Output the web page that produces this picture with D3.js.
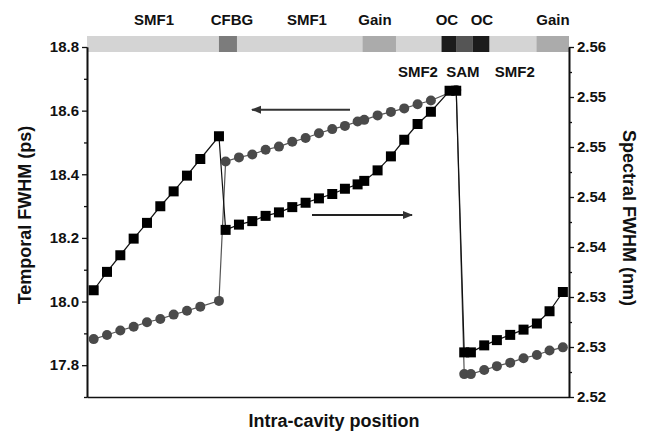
<!DOCTYPE html>
<html>
<head>
<meta charset="utf-8">
<script src="https://cdn.jsdelivr.net/npm/d3@7"></script>
<style>
  body { margin: 0; background: #fff; }
  text { font-family: "Liberation Sans", Arial, sans-serif; font-weight: bold; fill: #111; }
</style>
</head>
<body>
<svg id="chart"></svg>
<script>
// intra-cavity position (arbitrary units, one step per sample)
const positions = [0.5, 1.5, 2.5, 3.5, 4.5, 5.5, 6.5, 7.5, 8.5, 9.9,
  10.4, 11.4, 12.4, 13.4, 14.4, 15.4, 16.4, 17.4, 18.4, 19.35, 20.3, 20.8,
  21.8, 22.8, 23.8, 24.8, 25.8, 27.2, 27.7,
  28.3, 28.8, 29.8, 30.75, 31.75, 32.75, 33.75, 34.7, 35.7];

// temporal FWHM (ps), circles, left axis
const temporal = [17.882, 17.895, 17.909, 17.921, 17.935, 17.945, 17.959, 17.971, 17.984, 18.002,
  18.440, 18.453, 18.462, 18.477, 18.487, 18.502, 18.514, 18.529, 18.542, 18.552, 18.566, 18.571,
  18.585, 18.596, 18.607, 18.620, 18.632, null, 18.665,
  17.772, 17.772, 17.785, 17.797, 17.808, 17.822, 17.832, 17.846, 17.856];

// spectral FWHM (nm), squares, right axis
const spectral = [2.5322, 2.5343, 2.5362, 2.5381, 2.5399, 2.5418, 2.5435, 2.5453, 2.5472, 2.5498,
  2.5391, 2.5397, 2.5401, 2.5407, 2.5411, 2.5417, 2.5422, 2.5427, 2.5432, 2.5438, 2.5443, 2.5447,
  2.5459, 2.5475, 2.5494, 2.5512, 2.5526, 2.5550, 2.5550,
  2.5251, 2.5251, 2.5259, 2.5265, 2.5271, 2.5277, 2.5284, 2.5298, 2.5320];

const leftTicks = [17.8, 18.0, 18.2, 18.4, 18.6, 18.8];
const leftMinor = [17.7, 17.9, 18.1, 18.3, 18.5, 18.7];
const rightTickLabels = ["2.52", "2.53", "2.53", "2.54", "2.54", "2.55", "2.55", "2.56"];

// cavity components drawn in the strip on top
const segStart = [0, 9.9, 20.68, 26.6, 27.73, 28.93, 33.73];
const segEnd = [36.16, 11.25, 23.18, 27.73, 28.93, 30.18, 36.16];
const segShade = ["#d4d4d4", "#7c7c7c", "#ababab", "#1c1c1c", "#555555", "#1c1c1c", "#ababab"];

const topLabels = ["SMF1", "CFBG", "SMF1", "Gain", "OC", "OC", "Gain"];
const topLabelPos = [5.03, 10.88, 16.5, 21.6, 27.0, 29.63, 34.96];
const lowLabels = ["SMF2", "SAM", "SMF2"];
const lowLabelPos = [24.83, 28.2, 32.1];

let width = 649;
let height = 433;
let padLeft = 87, padRight = 569, padTop = 47, padBottom = 397;

let svg = d3.select('#chart').attr('width', width).attr('height', height);

let xScale = d3.scaleLinear().domain([0, 36.16]).range([padLeft, padRight]);
let yLeft = d3.scaleLinear().domain([17.7, 18.8]).range([padBottom, padTop]);
let yRight = d3.scaleLinear().domain([2.52, 2.56]).range([padBottom, padTop]);

// component strip
let strip = svg.append("g").attr("class", "strip");
segStart.forEach((s, i) => {
  strip.append("rect")
    .attr("x", xScale(s))
    .attr("y", 36)
    .attr("width", xScale(segEnd[i]) - xScale(s))
    .attr("height", 16)
    .attr("fill", segShade[i]);
});

svg.selectAll(".topLabel")
  .data(topLabels)
  .enter()
  .append("text")
    .attr("class", "topLabel")
    .attr("x", (d, i) => xScale(topLabelPos[i]))
    .attr("y", 25)
    .attr("text-anchor", "middle")
    .attr("font-size", 15)
    .text(d => d);

svg.selectAll(".lowLabel")
  .data(lowLabels)
  .enter()
  .append("text")
    .attr("class", "lowLabel")
    .attr("x", (d, i) => xScale(lowLabelPos[i]))
    .attr("y", 77)
    .attr("text-anchor", "middle")
    .attr("font-size", 15)
    .text(d => d);

// axes
let yAxisLeft = d3.axisLeft(yLeft).tickValues(leftTicks).tickFormat(d3.format(".1f")).tickSize(5).tickSizeOuter(0);
svg.append("g")
  .attr("class", "axisY")
  .attr("transform", "translate(" + padLeft + ",0)")
  .call(yAxisLeft);

let rightTicks = rightTickLabels.map((d, i) => 2.52 + i * 0.04 / 7);
let rightMinor = rightTicks.slice(0, -1).map(d => d + 0.02 / 7);
let yAxisRight = d3.axisRight(yRight).tickValues(rightTicks).tickFormat((d, i) => rightTickLabels[i]).tickSize(5).tickSizeOuter(0);
svg.append("g")
  .attr("class", "axisY2")
  .attr("transform", "translate(" + padRight + ",0)")
  .call(yAxisRight);

svg.append("g")
  .attr("transform", "translate(" + padLeft + ",0)")
  .call(d3.axisLeft(yLeft).tickValues(leftMinor).tickFormat("").tickSize(3).tickSizeOuter(0));
svg.append("g")
  .attr("transform", "translate(" + padRight + ",0)")
  .call(d3.axisRight(yRight).tickValues(rightMinor).tickFormat("").tickSize(3).tickSizeOuter(0));

svg.append("g")
  .attr("class", "axisX")
  .attr("transform", "translate(0," + padBottom + ")")
  .call(d3.axisBottom(xScale).tickValues([]).tickSizeOuter(0));

svg.selectAll(".domain").attr("stroke", "#111").attr("stroke-width", 1.6);
svg.selectAll(".tick line").attr("stroke", "#111").attr("stroke-width", 1.3);
svg.selectAll(".tick text")
  .attr("font-size", 15)
  .attr("font-family", '"Liberation Sans", Arial, sans-serif')
  .attr("font-weight", "bold")
  .attr("fill", "#111");
svg.selectAll(".axisY .tick text").attr("x", -8);
svg.selectAll(".axisY2 .tick text").attr("x", 8);

// axis titles
svg.append("text")
  .attr("transform", "translate(31,215) rotate(-90)")
  .attr("text-anchor", "middle")
  .attr("font-size", 18)
  .text("Temporal FWHM (ps)");
svg.append("text")
  .attr("transform", "translate(623,218) rotate(90)")
  .attr("text-anchor", "middle")
  .attr("font-size", 18)
  .text("Spectral FWHM (nm)");
svg.append("text")
  .attr("x", 334)
  .attr("y", 427)
  .attr("text-anchor", "middle")
  .attr("font-size", 18)
  .text("Intra-cavity position");

// series
let circlePts = positions.map((p, i) => [p, temporal[i]]).filter(d => d[1] !== null);
let squarePts = positions.map((p, i) => [p, spectral[i]]).filter(d => d[1] !== null);

svg.append("path")
  .datum(circlePts)
  .attr("fill", "none")
  .attr("stroke", "#555")
  .attr("stroke-width", 1.2)
  .attr("d", d3.line().x(d => xScale(d[0])).y(d => yLeft(d[1])));

svg.append("path")
  .datum(squarePts)
  .attr("fill", "none")
  .attr("stroke", "#111")
  .attr("stroke-width", 1.2)
  .attr("d", d3.line().x(d => xScale(d[0])).y(d => yRight(d[1])));

svg.selectAll(".dot")
  .data(circlePts)
  .enter()
  .append("circle")
    .attr("class", "dot")
    .attr("cx", d => xScale(d[0]))
    .attr("cy", d => yLeft(d[1]))
    .attr("r", 5)
    .attr("fill", "#4a4a4a");

svg.selectAll(".sq")
  .data(squarePts)
  .enter()
  .append("rect")
    .attr("class", "sq")
    .attr("x", d => xScale(d[0]) - 5)
    .attr("y", d => yRight(d[1]) - 5)
    .attr("width", 10)
    .attr("height", 10)
    .attr("fill", "#000");

// arrows telling which axis each series uses
let defs = svg.append("defs");
defs.append("marker")
  .attr("id", "head")
  .attr("viewBox", "0 0 10 10")
  .attr("refX", 9).attr("refY", 5)
  .attr("markerWidth", 7).attr("markerHeight", 5)
  .attr("orient", "auto")
  .append("path")
    .attr("d", "M0,1 L10,5 L0,9 Z")
    .attr("fill", "#333");

svg.append("line")
  .attr("x1", xScale(19.73)).attr("y1", yLeft(18.603))
  .attr("x2", xScale(12.38)).attr("y2", yLeft(18.603))
  .attr("stroke", "#333").attr("stroke-width", 2)
  .attr("marker-end", "url(#head)");

svg.append("line")
  .attr("x1", xScale(16.88)).attr("y1", yRight(2.5408))
  .attr("x2", xScale(24.38)).attr("y2", yRight(2.5408))
  .attr("stroke", "#222").attr("stroke-width", 2)
  .attr("marker-end", "url(#head)");
</script>
</body>
</html>
